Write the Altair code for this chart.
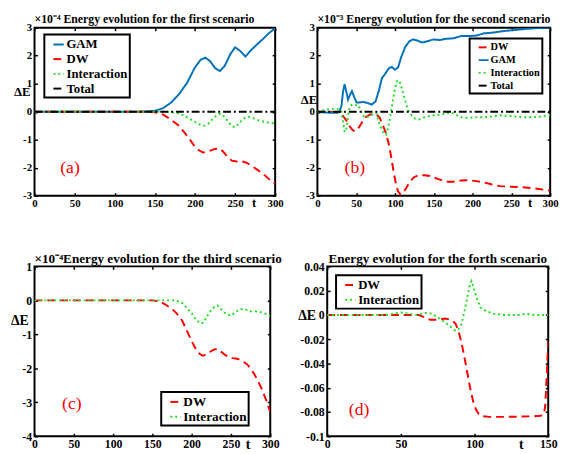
import altair as alt
import pandas as pd

# ---------------- data ----------------
# Panel (a): units of 1e-4
gam_a_t = [0, 130, 140, 150, 160, 170, 180, 190, 200, 207, 213, 219, 225, 231, 237, 244, 250, 256, 263, 270, 278, 285, 292, 300]
gam_a_v = [0, 0, 0.01, 0.03, 0.12, 0.32, 0.62, 1.02, 1.58, 1.85, 1.93, 1.8, 1.56, 1.45, 1.63, 2.05, 2.3, 2.18, 1.97, 2.2, 2.42, 2.6, 2.8, 2.98]
dw_a_t = [0, 140, 150, 160, 170, 180, 190, 200, 205, 210, 215, 220, 225, 230, 235, 240, 246, 252, 258, 264, 270, 278, 285, 292, 300]
dw_a_v = [0, 0, -0.02, -0.1, -0.28, -0.5, -0.85, -1.25, -1.38, -1.46, -1.43, -1.38, -1.33, -1.31, -1.42, -1.6, -1.75, -1.78, -1.77, -1.82, -1.92, -2.08, -2.22, -2.4, -2.58]
int_a_t = [0, 165, 175, 185, 195, 205, 212, 218, 224, 230, 234, 240, 246, 250, 255, 260, 266, 272, 280, 290, 300]
int_a_v = [0, 0, -0.03, -0.12, -0.28, -0.45, -0.5, -0.4, -0.2, -0.08, -0.1, -0.3, -0.52, -0.55, -0.42, -0.25, -0.18, -0.22, -0.32, -0.38, -0.42]
tot_a_t = [0, 300]
tot_a_v = [0, 0]

# Panel (b): units of 1e-3
gam_b_t = [0, 10, 20, 28, 31, 33, 35, 37, 39.5, 42, 44.5, 47, 50.5, 55, 59, 65, 70, 75, 79.5, 83, 87.5, 92, 96, 100, 104, 108, 113, 118, 123, 128, 135, 142, 150, 158, 165, 175, 185, 195, 205, 215, 225, 240, 255, 270, 285, 300]
gam_b_v = [0, -0.03, -0.04, -0.02, 0.2, 0.7, 0.98, 0.75, 0.43, 0.6, 0.74, 0.55, 0.33, 0.33, 0.35, 0.31, 0.25, 0.37, 0.78, 1.19, 1.36, 1.55, 1.6, 1.5, 1.58, 1.95, 2.3, 2.5, 2.58, 2.55, 2.47, 2.52, 2.58, 2.56, 2.6, 2.62, 2.7, 2.7, 2.72, 2.8, 2.82, 2.88, 2.92, 2.96, 2.99, 3.0]
dw_b_t = [0, 15, 22, 28, 33, 37, 41, 45, 48, 51, 55, 59, 63, 68, 72, 76, 80, 84, 88, 92, 95, 98, 101, 104, 107, 110, 114, 118, 124, 130, 138, 145, 155, 165, 175, 185, 195, 205, 215, 225, 235, 250, 265, 280, 290, 300]
dw_b_v = [0, 0, -0.02, -0.05, -0.15, -0.3, -0.5, -0.65, -0.7, -0.66, -0.5, -0.3, -0.18, -0.1, -0.08, -0.1, -0.2, -0.45, -0.75, -1.15, -1.6, -2.1, -2.55, -2.85, -2.95, -2.92, -2.75, -2.55, -2.35, -2.27, -2.27, -2.3, -2.4, -2.5, -2.5, -2.46, -2.45, -2.48, -2.53, -2.6, -2.66, -2.68, -2.7, -2.74, -2.78, -2.82]
int_b_t = [0, 5, 12, 20, 28, 31, 33, 35, 36.5, 38, 40, 42, 45, 48, 52, 55, 58, 61, 64, 68, 72, 76, 79.5, 83, 86, 88.5, 91, 94, 97, 100, 103, 106, 109, 113, 117, 121, 126, 131, 138, 145, 152, 160, 166, 172, 178, 185, 195, 205, 215, 225, 235, 245, 255, 265, 275, 285, 295, 300]
int_b_v = [0, 0.03, 0.08, 0.1, 0.1, 0, -0.35, -0.7, -0.72, -0.5, -0.05, 0.2, 0.25, 0.22, 0.25, 0.1, -0.1, -0.2, -0.2, -0.12, -0.1, -0.05, -0.4, -0.65, -0.8, -0.82, -0.6, -0.15, 0.35, 0.85, 1.12, 1.08, 0.8, 0.4, 0.05, -0.12, -0.25, -0.28, -0.2, -0.15, -0.12, -0.1, -0.05, -0.02, -0.1, -0.2, -0.22, -0.2, -0.2, -0.17, -0.13, -0.15, -0.17, -0.2, -0.2, -0.18, -0.15, -0.12]
tot_b_t = [0, 300]
tot_b_v = [0, 0]

# Panel (c): units of 1e-4
dw_c_t = [0, 150, 158, 165, 172, 180, 188, 195, 200, 205, 210, 214, 218, 223, 228, 232, 237, 242, 247, 252, 258, 264, 270, 275, 280, 285, 290, 295, 300]
dw_c_v = [0, 0, -0.03, -0.1, -0.2, -0.36, -0.6, -0.95, -1.2, -1.42, -1.57, -1.63, -1.6, -1.52, -1.45, -1.43, -1.5, -1.6, -1.66, -1.7, -1.72, -1.78, -1.87, -2.0, -2.18, -2.4, -2.65, -2.95, -3.28]
int_c_t = [0, 180, 188, 195, 201, 206, 211, 215, 220, 225, 230, 233, 237, 241, 246, 250, 255, 260, 265, 270, 275, 280, 285, 290, 295, 300]
int_c_v = [0, 0, -0.08, -0.25, -0.41, -0.58, -0.68, -0.66, -0.45, -0.28, -0.17, -0.15, -0.25, -0.35, -0.42, -0.45, -0.36, -0.27, -0.25, -0.28, -0.32, -0.32, -0.33, -0.36, -0.4, -0.47]

# Panel (d)
dw_d_t = [0, 55, 62, 66, 70, 75, 80, 84, 87, 89, 91, 93, 95, 97, 99, 101, 103, 106, 110, 120, 130, 140, 145, 147, 148, 149, 150]
dw_d_v = [0, 0, 0, -0.002, -0.004, -0.004, -0.003, -0.004, -0.007, -0.013, -0.022, -0.034, -0.047, -0.06, -0.071, -0.078, -0.082, -0.0835, -0.084, -0.084, -0.0838, -0.0835, -0.083, -0.082, -0.075, -0.05, -0.022]
int_d_t = [0, 40, 45, 50, 55, 60, 65, 68, 71, 75, 80, 84, 87, 89, 91, 93, 95, 97, 98, 100, 102, 104, 108, 113, 120, 130, 135, 140, 150]
int_d_v = [0, 0, 0.001, 0.002, 0.001, 0, 0.001, 0.002, 0.001, -0.002, -0.006, -0.01, -0.013, -0.012, -0.008, 0.002, 0.014, 0.026, 0.028, 0.02, 0.012, 0.006, 0.003, 0.001, 0, 0, 0.001, 0, 0]

# ticks / labels
ticks_t300 = [0, 50, 100, 150, 200, 250, 300]
ticks_t150 = [0, 50, 100, 150]
ticks_ab = [-3, -2, -1, 0, 1, 2, 3]
ticks_c = [-4, -3, -2, -1, 0, 1]
ticks_d = [-0.1, -0.08, -0.06, -0.04, -0.02, 0, 0.02, 0.04]

titles = [
    "×10⁻⁴ Energy evolution for the first scenario",
    "×10⁻³ Energy evolution for the second scenario",
    "×10⁻⁴Energy evolution for the third scenario",
    "Energy evolution for the forth scenario",
]
panel_labels = ["(a)", "(b)", "(c)", "(d)"]
panel_label_t = [32, 35, 35, 14.7]
panel_label_v = [-2.0, -2.03, -3.06, -0.0786]

# ---------------- styling ----------------
FONT = "Liberation Serif"
STYLE = {
    "GAM": ("#0072BD", [1, 0]),
    "DW": ("#FF0000", [8, 5]),
    "Interaction": ("#22DD22", [2, 3]),
    "Total": ("#000000", [8, 3, 2, 3]),
}


def frame(series):
    rows = []
    for name, ts, vs in series:
        for t, v in zip(ts, vs):
            rows.append({"t": t, "v": v, "series": name})
    return pd.DataFrame(rows)


def panel(series, order, xdom, xticks, ydom, yticks, title, anchor, title_size, title_off,
          lab_idx, w, h, leg, ytitle_x, ytitle_y, ttitle_x, tick_size, atitle_size):
    leg_x, leg_y, leg_font, sym_px, sym_len = leg
    df = frame(series)
    colors = [STYLE[s][0] for s in order]
    dashes = [STYLE[s][1] for s in order]
    xs = alt.Scale(domain=xdom, nice=False, zero=False)
    ys = alt.Scale(domain=ydom, nice=False, zero=False)
    common_axis = dict(domain=False, tickSize=3, offset=-3, tickColor="black",
                       tickWidth=1.5, labelFont=FONT, labelFontWeight="bold",
                       labelFontSize=tick_size, labelColor="black", grid=False,
                       labelFlush=False, labelOverlap=False,
                       labelExpr="'' + datum.value")
    half = sym_len / sym_px / 2
    lines = alt.Chart(df).mark_line(strokeWidth=2, clip=True).encode(
        x=alt.X("t:Q", scale=xs, axis=alt.Axis(
            orient="bottom", values=xticks, labelPadding=2,
            title="t", titleAngle=0, titleX=ttitle_x, titleY=4,
            titleAlign="center", titleBaseline="top",
            titleFont=FONT, titleFontSize=atitle_size, titleFontWeight="bold",
            titleColor="black", **common_axis)),
        y=alt.Y("v:Q", scale=ys, axis=alt.Axis(
            orient="left", values=yticks, labelPadding=3,
            title="ΔE", titleAngle=0, titleX=ytitle_x, titleY=ytitle_y,
            titleAlign="center", titleBaseline="middle",
            titleFont=FONT, titleFontSize=atitle_size, titleFontWeight="bold",
            titleColor="black", **common_axis)),
        color=alt.Color("series:N", scale=alt.Scale(domain=order, range=colors),
                        legend=alt.Legend(
                            title=None, orient="none", legendX=leg_x, legendY=leg_y,
                            symbolType=f"M-{half:.3f},0H{half:.3f}",
                            symbolSize=sym_px * sym_px, symbolStrokeWidth=2,
                            symbolOffset=(sym_len - sym_px) / 2 + 1,
                            labelFont=FONT, labelFontWeight="bold",
                            labelFontSize=leg_font, labelColor="black",
                            labelOffset=0, padding=2, rowPadding=0,
                            strokeColor="black", fillColor="white")),
        strokeDash=alt.StrokeDash("series:N", scale=alt.Scale(domain=order, range=dashes),
                                  legend=alt.Legend(title=None)),
        detail="series:N",
    )
    lab_df = pd.DataFrame({"t": [panel_label_t[lab_idx]], "v": [panel_label_v[lab_idx]],
                           "label": [panel_labels[lab_idx]]})
    mirror_axis = dict(labels=False, title=None, minExtent=0, maxExtent=0,
                       **{k: v for k, v in common_axis.items() if not k.startswith("label")})
    lab = alt.Chart(lab_df).mark_text(
        color="#FF0000", font=FONT, fontSize=18, align="left", baseline="middle"
    ).encode(
        x=alt.X("t:Q", scale=xs, axis=alt.Axis(orient="top", values=xticks, **mirror_axis)),
        y=alt.Y("v:Q", scale=ys, axis=alt.Axis(orient="right", values=yticks, **mirror_axis)),
        text="label:N",
    )
    return alt.layer(lines, lab).resolve_axis(x="independent", y="independent").properties(
        width=w, height=h,
        title=alt.TitleParams(title, anchor=anchor, frame="group", font=FONT,
                              fontSize=title_size, fontWeight="bold", color="black",
                              offset=title_off),
    )


pa = panel([("GAM", gam_a_t, gam_a_v), ("DW", dw_a_t, dw_a_v),
            ("Interaction", int_a_t, int_a_v), ("Total", tot_a_t, tot_a_v)],
           ["GAM", "DW", "Interaction", "Total"], [0, 300], ticks_t300, [-3, 3], ticks_ab,
           titles[0], "start", 12, -4, 0, 245, 171, (10, 7, 13, 14, 21),
           -16, 65.5, 223, 11, 13)
pb = panel([("DW", dw_b_t, dw_b_v), ("GAM", gam_b_t, gam_b_v),
            ("Interaction", int_b_t, int_b_v), ("Total", tot_b_t, tot_b_v)],
           ["DW", "GAM", "Interaction", "Total"], [0, 300], ticks_t300, [-3, 3], ticks_ab,
           titles[1], "start", 12, -4, 1, 237, 171, (155, 11, 10.5, 11.5, 20),
           -12, 73, 216, 11, 13)
pc = panel([("DW", dw_c_t, dw_c_v), ("Interaction", int_c_t, int_c_v)],
           ["DW", "Interaction"], [0, 300], ticks_t300, [-4, 1], ticks_c,
           titles[2], "start", 13.4, -5, 2, 240, 173, (129, 128, 13.5, 14, 21),
           -18.5, 55, 217, 12, 14)
pd_ = panel([("DW", dw_d_t, dw_d_v), ("Interaction", int_d_t, int_d_v)],
            ["DW", "Interaction"], [0, 150], ticks_t150, [-0.1, 0.04], ticks_d,
            titles[3], "middle", 13.4, -5, 3, 225, 173, (9, 9, 13, 14, 21),
            -24, 50, 197, 12, 14)

row1 = alt.hconcat(pa, pb, spacing=14).resolve_scale(color="independent", strokeDash="independent")
row2 = alt.hconcat(pc, pd_, spacing=12).resolve_scale(color="independent", strokeDash="independent")
chart = alt.vconcat(row1, row2, spacing=41).resolve_scale(
    color="independent", strokeDash="independent"
).properties(
    padding={"left": 1, "top": 0, "right": 0, "bottom": 0}
).configure(font=FONT).configure_view(stroke="black", strokeWidth=2).configure_legend(strokeWidth=2)

chart.save("out.html", embed_options={"renderer": "svg", "actions": False})
